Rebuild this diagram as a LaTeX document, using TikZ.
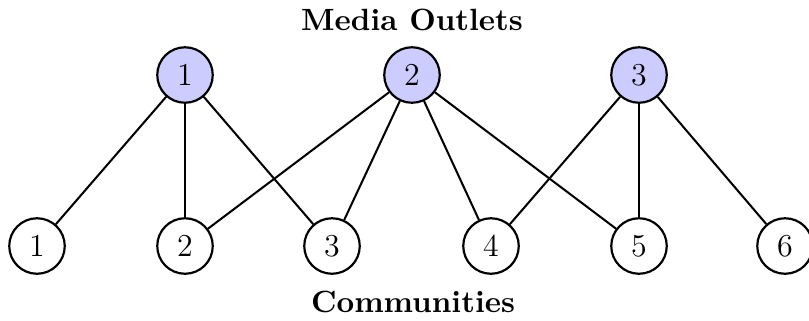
\documentclass[tikz,border=0pt]{standalone}
\begin{document}
\begin{tikzpicture}[x=0.345pt,y=-0.345pt,
  outlet/.style={circle,draw,line width=0.75pt,fill=blue!20,minimum size=55.5*0.345pt,inner sep=0pt,font=\fontsize{11}{13}\selectfont},
  comm/.style={circle,draw,line width=0.75pt,fill=white,minimum size=55.5*0.345pt,inner sep=0pt,font=\fontsize{11}{13}\selectfont},
  edge/.style={line width=0.7pt},
  title/.style={font=\fontsize{10.6}{12.7}\selectfont\bfseries}]
\useasboundingbox (0,0) rectangle (809,320);
\node[title] (mo) at (412,20) {Media Outlets};
\node[title] (co) at (413,302) {Communities};
\node[outlet] (t1) at (185,75) {1};
\node[outlet] (t2) at (412,75) {2};
\node[outlet] (t3) at (639,75) {3};
\node[comm] (b1) at (37,246) {1};
\node[comm] (b2) at (185,246) {2};
\node[comm] (b3) at (332,246) {3};
\node[comm] (b4) at (491,246) {4};
\node[comm] (b5) at (639,246) {5};
\node[comm] (b6) at (785,246) {6};
\draw[edge] (t1) -- (b1);
\draw[edge] (t1) -- (b2);
\draw[edge] (t1) -- (b3);
\draw[edge] (t2) -- (b2);
\draw[edge] (t2) -- (b3);
\draw[edge] (t2) -- (b4);
\draw[edge] (t2) -- (b5);
\draw[edge] (t3) -- (b4);
\draw[edge] (t3) -- (b5);
\draw[edge] (t3) -- (b6);
\end{tikzpicture}
\end{document}
